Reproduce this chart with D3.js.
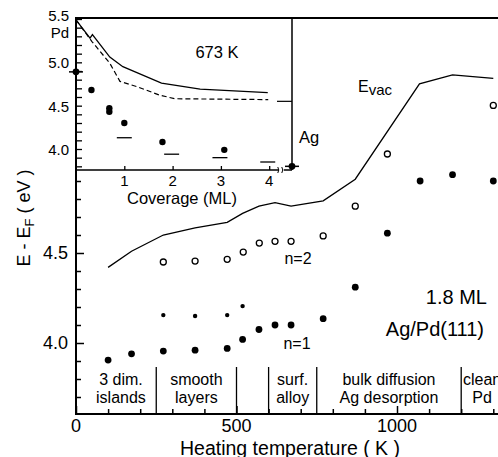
<!DOCTYPE html>
<html>
<head>
<meta charset="utf-8">
<script src="https://cdn.jsdelivr.net/npm/d3@7"></script>
<style>
  body { margin: 0; background: #fff; }
  svg { display: block; font-family: "Liberation Sans", Arial, sans-serif; }
</style>
</head>
<body>
<div id="chart"></div>
<script>
// main panel: heating temperature (K) vs E - EF (eV)
const evacT = [100, 173, 272, 371, 471, 519, 570, 620, 670, 770, 870, 1070, 1173, 1300];
const evacE = [4.42, 4.51, 4.60, 4.64, 4.67, 4.72, 4.76, 4.78, 4.76, 4.79, 4.91, 5.44, 5.49, 5.47];

const n2T = [272, 371, 471, 521, 571, 620, 670, 770, 870, 970, 1300];
const n2E = [4.45, 4.455, 4.465, 4.505, 4.555, 4.565, 4.565, 4.595, 4.76, 5.05, 5.32];

const midT = [272, 371, 471, 519];
const midE = [4.155, 4.15, 4.155, 4.205];

const n1T = [100, 173, 272, 371, 471, 519, 570, 620, 670, 770, 870, 970, 1072, 1173, 1300];
const n1E = [3.905, 3.94, 3.955, 3.96, 3.97, 4.02, 4.075, 4.10, 4.10, 4.135, 4.31, 4.61, 4.90, 4.935, 4.90];

const regionBounds = [250, 500, 600, 750, 1200];
const regionCenters = [140, 375, 675, 975, 1265];
const regionLabels = [["3 dim.", "islands"], ["smooth", "layers"], ["surf.", "alloy"],
                      ["bulk diffusion", "Ag desorption"], ["clean", "Pd"]];

const xTicks = [0, 500, 1000];
const yTicks = [4.0, 4.5];

// inset: coverage (ML) at 673 K
const covSolid = [0, 0.29, 0.34, 0.70, 0.97, 1.77, 2.57, 3.97];
const wfSolid = [5.49, 5.28, 5.32, 5.06, 4.95, 4.76, 4.69, 4.65];
const covDash = [0, 0.33, 0.70, 0.91, 1.26, 1.74, 2.05, 3.98];
const wfDash = [5.49, 5.24, 4.99, 4.78, 4.72, 4.62, 4.58, 4.57];
const covDots = [0.32, 0.69, 0.69, 1.0, 1.79, 3.07];
const wfDots = [4.68, 4.47, 4.43, 4.30, 4.08, 3.99];
const covBars = [1.0, 1.98, 2.98, 3.97];
const wfBars = [4.13, 3.94, 3.90, 3.85];
const pdClean = 4.89;
const agClean = 3.80;
const agRef = 4.55;
const insetXTicks = [1, 2, 3, 4];
const insetYTicks = [4.0, 4.5, 5.0, 5.5];

const width = 498, height = 457;
const svg = d3.select("#chart").append("svg")
    .attr("width", width)
    .attr("height", height);

const x = d3.scaleLinear().domain([0, 1000]).range([76, 397]);
const y = d3.scaleLinear().domain([4.0, 4.5]).range([343, 253]);
const plotTop = 18, plotBottom = 414, plotLeft = 76;

// main ticks
svg.append("g")
    .attr("transform", `translate(0,${plotBottom})`)
    .call(d3.axisBottom(x).tickValues(d3.range(0, 15).map(d => d * 100))
        .tickSize(-5).tickSizeOuter(0).tickFormat(""))
    .call(g => g.select(".domain").remove())
    .call(g => g.selectAll(".tick line").attr("stroke-width", 1.5)
        .filter(d => d % 500 === 0).attr("y2", -8));

svg.append("g")
    .attr("transform", `translate(${plotLeft},0)`)
    .call(d3.axisLeft(y).tickValues(d3.range(37, 58).map(d => d / 10))
        .tickSize(-5).tickSizeOuter(0).tickFormat(""))
    .call(g => g.select(".domain").remove())
    .call(g => g.selectAll(".tick line").attr("stroke-width", 1.5)
        .filter(d => Math.abs(d * 2 - Math.round(d * 2)) < 1e-6).attr("x2", 8));

// tick labels
svg.selectAll(".xl").data(xTicks).join("text")
    .attr("x", d => x(d)).attr("y", 432)
    .attr("text-anchor", "middle").attr("font-size", 18)
    .text(d => d);
svg.selectAll(".yl").data(yTicks).join("text")
    .attr("x", 68).attr("y", d => y(d) + 6)
    .attr("text-anchor", "end").attr("font-size", 18)
    .text(d => d.toFixed(1));

// region separators and labels
svg.selectAll(".sep").data(regionBounds).join("line")
    .attr("x1", d => x(d)).attr("x2", d => x(d))
    .attr("y1", plotBottom).attr("y2", 367)
    .attr("stroke", "#000").attr("stroke-width", 1.3);
regionLabels.forEach((lab, i) => {
    lab.forEach((t, j) => {
        svg.append("text")
            .attr("x", x(regionCenters[i])).attr("y", 385 + j * 18)
            .attr("text-anchor", "middle").attr("font-size", 16)
            .text(t);
    });
});

// Evac line
const line = d3.line().x(d => x(d[0])).y(d => y(d[1]));
svg.append("path")
    .datum(d3.zip(evacT, evacE))
    .attr("d", line)
    .attr("fill", "none").attr("stroke", "#000").attr("stroke-width", 1.3);

svg.selectAll(".n2").data(d3.zip(n2T, n2E)).join("circle")
    .attr("cx", d => x(d[0])).attr("cy", d => y(d[1])).attr("r", 3)
    .attr("fill", "#fff").attr("stroke", "#000").attr("stroke-width", 1.3);
svg.selectAll(".mid").data(d3.zip(midT, midE)).join("circle")
    .attr("cx", d => x(d[0])).attr("cy", d => y(d[1])).attr("r", 2.2)
    .attr("fill", "#000");
svg.selectAll(".n1").data(d3.zip(n1T, n1E)).join("circle")
    .attr("cx", d => x(d[0])).attr("cy", d => y(d[1])).attr("r", 3.4)
    .attr("fill", "#000");

// annotations
svg.append("text").attr("x", 298).attr("y", 264).attr("text-anchor", "middle")
    .attr("font-size", 16).text("n=2");
svg.append("text").attr("x", 297).attr("y", 349).attr("text-anchor", "middle")
    .attr("font-size", 16).text("n=1");
svg.append("text").attr("x", 487).attr("y", 304).attr("text-anchor", "end")
    .attr("font-size", 20).text("1.8 ML");
svg.append("text").attr("x", 484).attr("y", 336).attr("text-anchor", "end")
    .attr("font-size", 20).text("Ag/Pd(111)");
const ev = svg.append("text").attr("x", 358).attr("y", 92).attr("font-size", 16);
ev.append("tspan").text("E");
ev.append("tspan").attr("dy", 3).attr("font-size", 15).text("vac");

// axis titles
svg.append("text").attr("x", 290).attr("y", 455).attr("text-anchor", "middle")
    .attr("font-size", 19.5).text("Heating temperature ( K )");
const yt = svg.append("text")
    .attr("transform", "translate(30,218) rotate(-90)")
    .attr("text-anchor", "middle").attr("font-size", 18);
yt.append("tspan").text("E - E");
yt.append("tspan").attr("dy", 4).attr("font-size", 13).text("F");
yt.append("tspan").attr("dy", -4).text(" ( eV )");

// ---- inset ----
const xi = d3.scaleLinear().domain([0, 1]).range([76, 124.3]);
const yi = d3.scaleLinear().domain([4.0, 5.5]).range([149, 19]);
const iRight = 292, iBottom = 170;

svg.append("rect")
    .attr("x", plotLeft + 1).attr("y", plotTop + 1)
    .attr("width", iRight - plotLeft - 1).attr("height", iBottom - plotTop - 1)
    .attr("fill", "#fff");

svg.append("g")
    .attr("transform", `translate(${plotLeft},0)`)
    .call(d3.axisLeft(yi).tickValues(d3.range(38, 56).map(d => d / 10))
        .tickSize(-6).tickSizeOuter(0).tickFormat(""))
    .call(g => g.select(".domain").remove())
    .call(g => g.selectAll(".tick line").attr("stroke-width", 1.3));
svg.append("g")
    .attr("transform", `translate(0,${iBottom})`)
    .call(d3.axisBottom(xi).tickValues(insetXTicks)
        .tickSize(-4).tickSizeOuter(0).tickFormat(""))
    .call(g => g.select(".domain").remove())
    .call(g => g.selectAll(".tick line").attr("stroke-width", 1.3));

svg.selectAll(".ixl").data(insetXTicks).join("text")
    .attr("x", d => xi(d)).attr("y", 186)
    .attr("text-anchor", "middle").attr("font-size", 15).text(d => d);
svg.selectAll(".iyl").data(insetYTicks).join("text")
    .attr("x", 69).attr("y", d => yi(d) + (d === 5.5 ? 2 : 6))
    .attr("text-anchor", "end").attr("font-size", 15).text(d => d.toFixed(1));
svg.append("text").attr("x", 69).attr("y", 38).attr("text-anchor", "end")
    .attr("font-size", 15).text("Pd");
svg.append("text").attr("x", 182).attr("y", 204).attr("text-anchor", "middle")
    .attr("font-size", 16.5).text("Coverage (ML)");
svg.append("text").attr("x", 217).attr("y", 58).attr("text-anchor", "middle")
    .attr("font-size", 16.5).text("673 K");
svg.append("text").attr("x", 299).attr("y", 143)
    .attr("font-size", 16.5).text("Ag");

// inset frame (bottom with break)
const brk = xi(4.24);
svg.append("path")
    .attr("d", `M${plotLeft},${iBottom}H${brk - 2}M${brk + 3},${iBottom}H${iRight}M${iRight},${plotTop}V${iBottom}`)
    .attr("fill", "none").attr("stroke", "#000").attr("stroke-width", 1.5);
svg.append("path")
    .attr("d", `M${brk - 3},${iBottom + 3}q2,-3 0,-6M${brk + 1},${iBottom + 3}q2,-3 0,-6`)
    .attr("fill", "none").attr("stroke", "#000").attr("stroke-width", 1);

const iline = d3.line().x(d => xi(d[0])).y(d => yi(d[1]));
svg.append("path").datum(d3.zip(covSolid, wfSolid)).attr("d", iline)
    .attr("fill", "none").attr("stroke", "#000").attr("stroke-width", 1.3);
svg.append("path").datum(d3.zip(covDash, wfDash)).attr("d", iline)
    .attr("fill", "none").attr("stroke", "#000").attr("stroke-width", 1.2)
    .attr("stroke-dasharray", "5,3");
svg.append("line")
    .attr("x1", iRight - 15).attr("x2", iRight)
    .attr("y1", yi(agRef)).attr("y2", yi(agRef))
    .attr("stroke", "#000").attr("stroke-width", 1.2);

svg.selectAll(".idot").data(d3.zip(covDots, wfDots)).join("circle")
    .attr("cx", d => xi(d[0])).attr("cy", d => yi(d[1])).attr("r", 3.2)
    .attr("fill", "#000");
svg.selectAll(".ibar").data(d3.zip(covBars, wfBars)).join("line")
    .attr("x1", d => xi(d[0] - 0.155)).attr("x2", d => xi(d[0] + 0.155))
    .attr("y1", d => yi(d[1])).attr("y2", d => yi(d[1]))
    .attr("stroke", "#000").attr("stroke-width", 1.3);

// clean Pd and Ag reference points on the inset edges
[[plotLeft, yi(pdClean)], [iRight, yi(agClean)]].forEach(p => {
    svg.append("line").attr("x1", p[0] - 7).attr("x2", p[0] + 7)
        .attr("y1", p[1]).attr("y2", p[1])
        .attr("stroke", "#000").attr("stroke-width", 1.5);
    svg.append("circle").attr("cx", p[0]).attr("cy", p[1]).attr("r", 3.4)
        .attr("fill", "#000");
});

// main frame
svg.append("path")
    .attr("d", `M${width},${plotTop}H${plotLeft}V${plotBottom}H${width}`)
    .attr("fill", "none").attr("stroke", "#000").attr("stroke-width", 2);
</script>
</body>
</html>
